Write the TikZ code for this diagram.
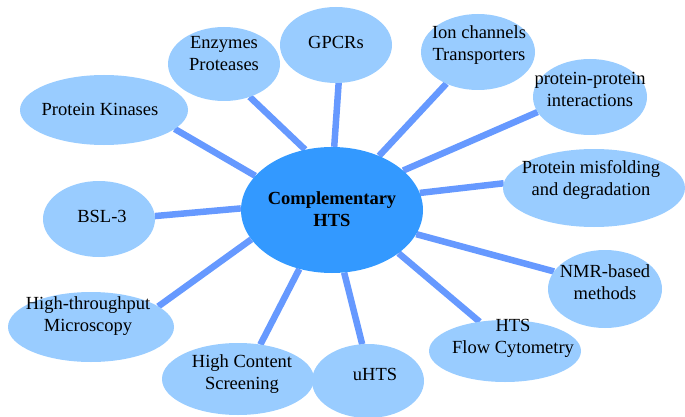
\documentclass[tikz,border=0pt]{standalone}
\usepackage{fontspec}
\setmainfont{Liberation Serif}
\usetikzlibrary{shapes.geometric}
\definecolor{sat}{HTML}{99CCFF}
\definecolor{hubc}{HTML}{3399FF}
\definecolor{linkc}{HTML}{6699FF}
\pgfdeclarelayer{bg}
\pgfsetlayers{bg,main}
\begin{document}
\begin{tikzpicture}[x=1pt,y=-1pt,
  bub/.style={ellipse, fill=sat, draw=none, inner sep=0pt, outer sep=0pt},
  lbl/.style={font=\fontsize{18.5}{22}\selectfont, align=center, text=black, inner sep=0pt},
  conn/.style={draw=linkc, line width=6.5pt}]
\useasboundingbox (0,0) rectangle (685,417);
% hub
\node[ellipse, fill=hubc, draw=none, inner sep=0pt, minimum width=182pt, minimum height=126pt] (hub) at (332,210) {};
% satellites
\node[bub, minimum width=168pt, minimum height=70pt] (kin) at (104,110) {};
\node[bub, minimum width=112pt, minimum height=74pt] (enz) at (224,64) {};
\node[bub, minimum width=112pt, minimum height=76pt] (gpcr) at (336,45) {};
\node[bub, minimum width=114pt, minimum height=76pt] (ion) at (478,52) {};
\node[bub, minimum width=114pt, minimum height=76pt] (ppi) at (590,97) {};
\node[bub, minimum width=182pt, minimum height=78pt] (mis) at (594,188) {};
\node[bub, minimum width=114pt, minimum height=78pt] (nmr) at (605,289) {};
\node[bub, minimum width=152pt, minimum height=62pt] (flow) at (505,351) {};
\node[bub, minimum width=112pt, minimum height=74pt] (uhts) at (368,381) {};
\node[bub, minimum width=152pt, minimum height=72pt] (hcs) at (238,379) {};
\node[bub, minimum width=166pt, minimum height=70pt] (mic) at (91,327) {};
\node[bub, minimum width=112pt, minimum height=76pt] (bsl) at (99,219) {};
% connectors
\begin{pgfonlayer}{bg}
\draw[conn] (hub.156) -- (kin.-15);
\draw[conn] (hub.114) -- (enz.-52);
\draw[conn] (hub.88) -- (gpcr.-86);
\draw[conn] (hub.49) -- (ion.-135);
\draw[conn] (hub.29) -- (ppi.196);
\draw[conn] (hub.11) -- (mis.177);
\draw[conn] (hub.-16) -- (nmr.161);
\draw[conn] (hub.-33) -- (flow.131);
\draw[conn] (hub.-79) -- (uhts.99);
\draw[conn] (hub.-119) -- (hcs.57);
\draw[conn] (hub.-160) -- (mic.17);
\draw[conn] (hub.179) -- (bsl.3);
\end{pgfonlayer}
% labels
\node[lbl, font=\fontsize{18.5}{22}\selectfont\bfseries] (thub) at (332,209) {Complementary\\HTS};
\node[lbl] (tkin) at (100,109) {Protein Kinases};
\node[lbl] (tenz) at (224,54) {Enzymes\\Proteases};
\node[lbl] (tgpcr) at (336,42) {GPCRs};
\node[lbl] (tion) at (479,45) {Ion channels\\Transporters};
\node[lbl] (tppi) at (590,89) {protein-protein\\interactions};
\node[lbl] (tmis) at (591,180) {Protein misfolding\\and degradation};
\node[lbl] (tnmr) at (605,282) {NMR-based\\methods};
\node[lbl] (tflow) at (513,338) {HTS\\Flow Cytometry};
\node[lbl] (tuhts) at (375,374) {uHTS};
\node[lbl] (thcs) at (242,374) {High Content\\Screening};
\node[lbl] (tmic) at (88,316) {High-throughput\\Microscopy};
\node[lbl] (tbsl) at (102,216) {BSL-3};
\end{tikzpicture}
\end{document}
